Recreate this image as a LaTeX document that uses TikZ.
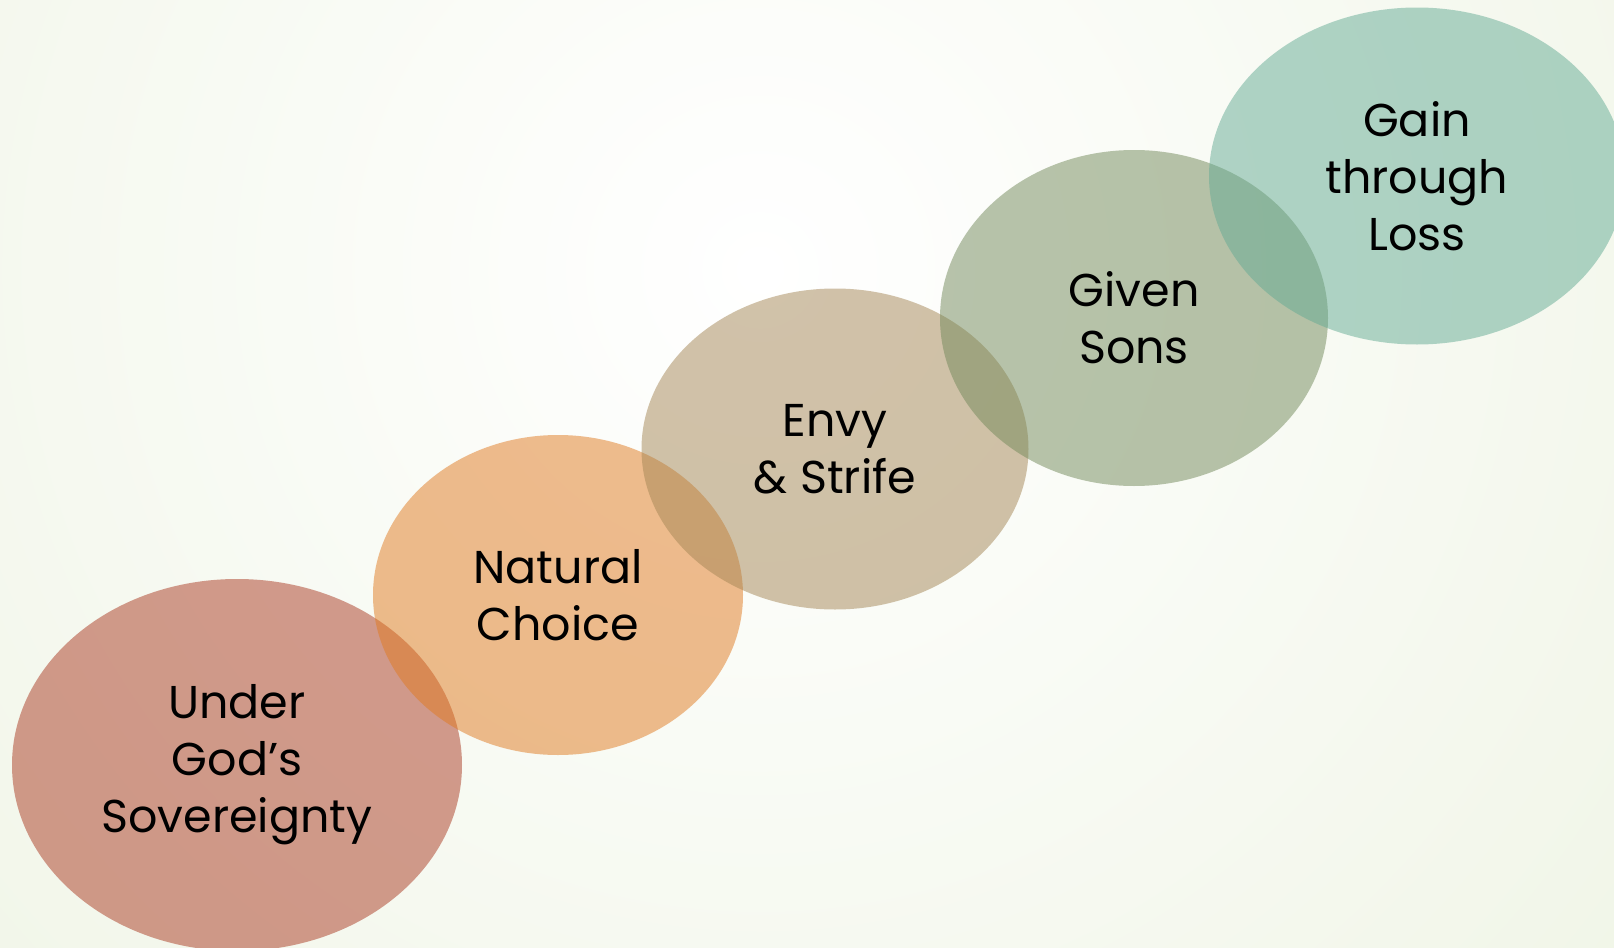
\documentclass[tikz,border=0pt]{standalone}
\usepackage{fontspec}
\setmainfont{Poppins}
\usetikzlibrary{shapes.geometric}
\definecolor{bgout}{HTML}{E4EDD3}
\definecolor{rust}{HTML}{AA3A22}
\definecolor{amber}{HTML}{E07A20}
\definecolor{sand}{HTML}{A48655}
\definecolor{moss}{HTML}{72895A}
\definecolor{jade}{HTML}{64AB94}
\begin{document}
\begin{tikzpicture}[x=0.5pt,y=-0.5pt,
		bubble/.style={ellipse,inner sep=0pt,fill opacity=0.5,text opacity=1,
			align=center,font=\fontsize{23}{28.5}\selectfont},
		]
		\useasboundingbox (0,0) rectangle (1614,948);
		\clip (0,0) rectangle (1614,948);
		\shade[inner color=white,outer color=bgout] (760,270) circle (2100);
		\node[bubble,fill=rust,minimum width=225pt,minimum height=186pt] (sov) at (237,765) {Under\\God’s\\Sovereignty};
		\node[bubble,fill=amber,minimum width=185pt,minimum height=160pt] (choice) at (558,595) {Natural\\Choice};
		\node[bubble,fill=sand,minimum width=193.5pt,minimum height=160.5pt] (envy) at (835,449) {Envy\\\& Strife};
		\node[bubble,fill=moss,minimum width=194pt,minimum height=168pt] (sons) at (1134,318) {Given\\Sons};
		\node[bubble,fill=jade,minimum width=208pt,minimum height=168.5pt] (gain) at (1417,176) {Gain\\through\\Loss};
		\end{tikzpicture}
\end{document}
